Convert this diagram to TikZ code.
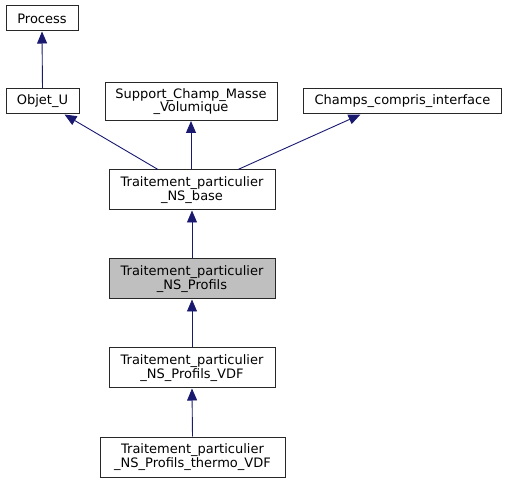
\documentclass[tikz,border=0pt]{standalone}
\usepackage{fontspec}
\setmainfont{DejaVu Sans}
\usetikzlibrary{arrows.meta}
\definecolor{edgeblue}{RGB}{25,25,112}
\definecolor{hlgrey}{RGB}{191,191,191}
\definecolor{boxline}{RGB}{40,40,40}
\tikzset{
  cls/.style={draw=boxline, line width=1pt, fill=white, inner sep=0pt, align=center,
    font=\fontsize{13pt}{13.5pt}\selectfont, text=black},
  inh/.style={draw=edgeblue, line width=0.9pt, -{Triangle[length=12pt,width=10pt]}}
}
\begin{document}
\begin{tikzpicture}[x=1pt,y=-1pt]
\useasboundingbox (0,0) rectangle (507,484);
\node[cls, minimum width=72pt, minimum height=25pt] (process) at (42,18.5) {Process};
\node[cls, minimum width=73pt, minimum height=25pt] (objet) at (42.5,101.5) {Objet\_U};
\node[cls, minimum width=172pt, minimum height=38pt] (support) at (191,101.5) {Support\_Champ\_Masse\\\_Volumique};
\node[cls, minimum width=198pt, minimum height=25pt] (champs) at (402.5,101.5) {Champs\_compris\_interface};
\node[cls, minimum width=166pt, minimum height=40pt] (base) at (192,190) {Traitement\_particulier\\\_NS\_base};
\node[cls, fill=hlgrey, minimum width=166pt, minimum height=40pt] (profils) at (192,279) {Traitement\_particulier\\\_NS\_Profils};
\node[cls, minimum width=166pt, minimum height=40pt] (vdf) at (192,368) {Traitement\_particulier\\\_NS\_Profils\_VDF};
\node[cls, minimum width=185pt, minimum height=40pt] (thermo) at (192.5,457) {Traitement\_particulier\\\_NS\_Profils\_thermo\_VDF};
\draw[inh] (objet.north) -- (process.south);
\draw[inh] ([xshift=-34pt]base.north) -- ([xshift=22pt]objet.south);
\draw[inh] (base.north -| support.south) -- (support.south);
\draw[inh] ([xshift=46pt]base.north) -- ([xshift=-42pt]champs.south);
\draw[inh] (profils.north) -- (base.south);
\draw[inh] (vdf.north) -- (profils.south);
\draw[inh] (thermo.north) -- (vdf.south);
\end{tikzpicture}
\end{document}
